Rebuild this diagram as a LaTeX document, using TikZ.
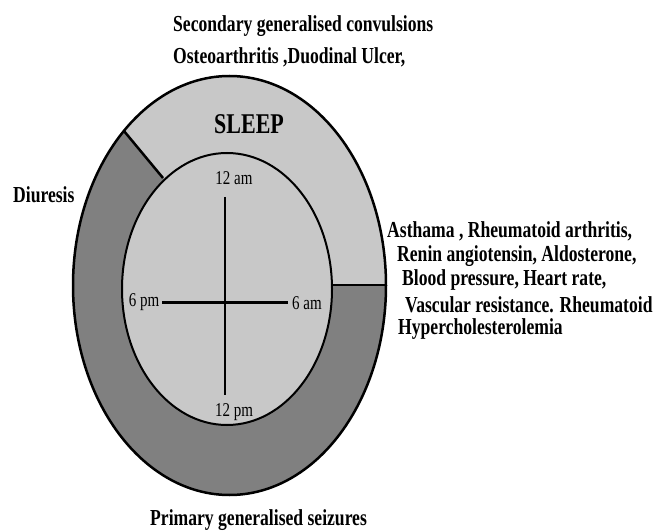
\documentclass[tikz,border=0pt]{standalone}
\usepackage{fontspec}
\setmainfont{Liberation Serif}
\usepackage{graphicx}
\definecolor{lightg}{RGB}{200,200,200}
\definecolor{darkg}{RGB}{128,128,128}
\newcommand{\vs}[1]{\scalebox{1}[1.3]{#1}}
\begin{document}
\begin{tikzpicture}[x=1pt,y=-1pt,
 lbl/.style={inner sep=0pt, font=\bfseries\fontsize{17.6}{20}\selectfont},
 clk/.style={inner sep=0pt, font=\fontsize{15}{17}\selectfont},
 outl/.style={draw=black, line width=2.5pt},
 inl/.style={draw=black, line width=2pt},
 crossv/.style={draw=black, line width=2pt},
 crossh/.style={draw=black, line width=3pt}]
\useasboundingbox (0,0) rectangle (654,532);
\fill[white] (0,0) rectangle (654,532);
\coordinate (oc) at (229.5,285.5);
\coordinate (ic) at (227,289);
\begin{scope}
\clip (oc) ellipse [x radius=156.5pt, y radius=209.5pt];
\fill[darkg] (0,0) rectangle (654,532);
\fill[lightg] (163,178) -- (95,96) -- (95,40) -- (420,40) -- (420,285) -- (332,285) -- cycle;
\end{scope}
\fill[lightg] (ic) ellipse [x radius=105pt, y radius=136pt];
\draw[outl] (oc) ellipse [x radius=156.5pt, y radius=209.5pt];
\draw[inl] (ic) ellipse [x radius=105pt, y radius=136pt];
% dividers
\coordinate (d1o) at (124,131);
\coordinate (d1i) at (163,178);
\coordinate (d2i) at (332,285);
\coordinate (d2o) at (386,285);
\draw[outl] (d1o) -- (d1i);
\draw[outl] (d2i) -- (d2o);
% cross
\coordinate (vt) at (225,197);
\coordinate (vb) at (225,395);
\coordinate (hl) at (162,302);
\coordinate (hr) at (288,302);
\draw[crossv] (vt) -- (vb);
\draw[crossh] (hl) -- (hr);
% clock labels
\node[clk] (am12) at (234,178) {\vs{12 am}};
\node[clk] (pm6) at (144,302) {\vs{6 pm}};
\node[clk] (am6) at (307,303) {\vs{6 am}};
\node[clk] (pm12) at (234,412) {\vs{12 pm}};
% labels
\node[lbl, font=\bfseries\fontsize{22}{24}\selectfont, anchor=west] (sleep) at (214,124) {\vs{SLEEP}};
\node[lbl, anchor=west] (sec) at (173,26) {\vs{Secondary generalised convulsions}};
\node[lbl, anchor=west] (ost) at (173,57) {\vs{Osteoarthritis ,Duodinal Ulcer,}};
\node[lbl, anchor=west] (diu) at (13,195) {\vs{Diuresis}};
\node[lbl, anchor=west] (r1) at (387,231) {\vs{Asthama , Rheumatoid arthritis,}};
\node[lbl, anchor=west] (r2) at (397,256) {\vs{Renin angiotensin, Aldosterone,}};
\node[lbl, anchor=west] (r3) at (402,280) {\vs{Blood pressure, Heart rate,}};
\node[lbl, anchor=west] (r4) at (405,305) {\vs{Vascular resistance. Rheumatoid}};
\node[lbl, anchor=west] (r5) at (398,329) {\vs{Hypercholesterolemia}};
\node[lbl, anchor=west] (pri) at (150,520) {\vs{Primary generalised seizures}};
\end{tikzpicture}
\end{document}
